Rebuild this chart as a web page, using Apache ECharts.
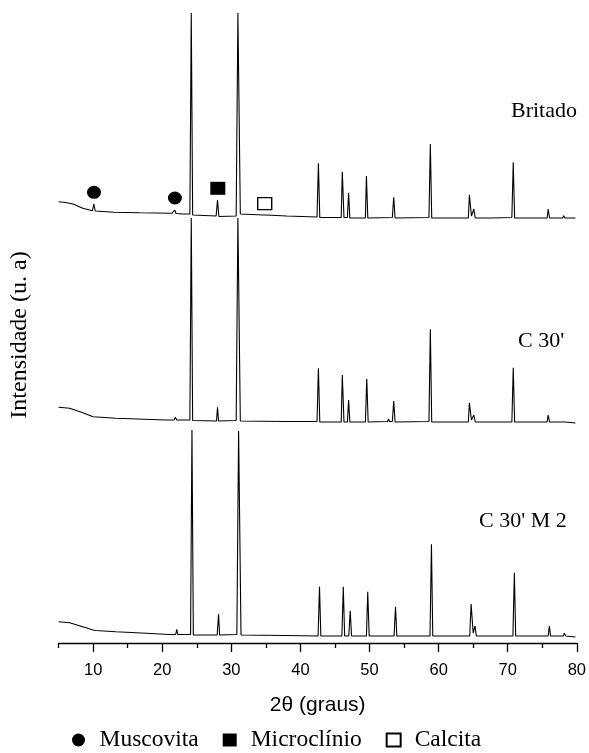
<!DOCTYPE html>
<html>
<head>
<meta charset="utf-8">
<script src="https://cdn.jsdelivr.net/npm/echarts@6/dist/echarts.min.js"></script>
<style>
html,body{margin:0;padding:0;background:#fff;}
#chart{width:589px;height:753px;}
</style>
</head>
<body>
<div id="chart"></div>
<script>
// 2theta (graus), intensidade relativa a linha de base de cada amostra
let britado = [[5.0,16.3],[6.0,15.5],[7.1,14],[8.5,9.7],[9.9,7.3],[10.1,14],[10.3,7],[13,5.8],[16.7,5.3],[21.4,4.7],[21.8,8],[22.0,4.5],
    [23.0,4],[23.15,6],[23.3,4],[24.0,4],[24.2,205],[24.4,3],[27.8,2],[28.0,18],[28.2,1.5],[30.7,2],[30.95,205],[31.05,205],[31.3,4],
    [33,3.5],[34.6,3],[34.8,4.5],[35.0,3],[38,2],[42.4,1],[42.6,54.7],[42.8,0.5],[45.9,0.5],[46.06,46.3],[46.3,0.5],[46.8,0.5],
    [46.97,25.3],[47.15,0],[49.4,0],[49.55,42],[49.75,0],[53.3,0.5],[53.5,20.7],[53.7,0],[58.6,0.5],[58.8,74],[59.0,0],[64.3,0],
    [64.45,23],[64.75,2],[64.95,1.5],[65.1,9],[65.3,0],[67.35,0],[67.5,2],[67.65,0],[70.6,0.5],[70.8,55.7],[71.0,0],[75.7,0],
    [75.85,9],[76.05,0],[77.95,0],[78.1,2.3],[78.3,0],[79.8,0]];
let c30 = [[5.0,14.7],[6.6,13.7],[8.5,9.3],[10.0,5.3],[13.3,3.7],[20.5,2],[21.7,2],[21.9,4.7],[22.1,2],[22.65,2],[22.8,3],[22.95,2],
    [24.0,2],[24.2,204],[24.4,1.5],[27.85,1],[28.0,14.7],[28.15,1],[30.7,1.5],[30.95,204],[31.05,204],[31.3,1],[38,0.5],[41.3,0.5],
    [41.4,2],[41.5,0.5],[42.4,0.5],[42.6,53.7],[42.8,0],[45.9,0],[46.06,47],[46.3,0],[46.8,0],[46.97,22],[47.15,0],[49.4,0],
    [49.6,43.3],[49.8,0],[52.6,0.5],[52.75,3],[52.9,0.5],[53.3,0.5],[53.5,21],[53.7,0],[58.6,0.5],[58.8,92.7],[59.0,0],[64.3,0],
    [64.45,19.3],[64.75,2],[64.95,1.5],[65.1,7],[65.3,0],[67.35,0],[67.5,1.5],[67.65,0],[70.6,0],[70.8,54.3],[71.0,0],[75.7,0],
    [75.85,7],[76.05,0],[77.95,0],[78.1,2],[78.3,0],[79.8,-1]];
let c30m2 = [[5.0,14.3],[6.6,13.3],[8.5,9.3],[10.0,6],[10.2,7.7],[10.4,5.5],[13.3,4.3],[17,3],[21,1.5],[21.95,1.5],[22.1,6.7],
    [22.25,1.5],[22.7,1.5],[22.85,2.7],[23.0,1.5],[24.1,1.5],[24.3,206],[24.5,1],[27.95,1],[28.15,22],[28.3,1],[30.8,1.5],
    [31.05,205],[31.15,205],[31.4,1],[38,0.5],[42.55,0],[42.76,49.3],[42.95,0],[46.0,0],[46.2,49.3],[46.4,0],[47.0,0],[47.2,25.3],
    [47.4,0],[49.55,0],[49.74,44.3],[49.95,0],[53.55,0],[53.76,29.3],[53.95,0],[58.75,0],[58.96,91.7],[59.15,0],[64.5,0],
    [64.7,32],[65.0,3],[65.1,2],[65.27,10],[65.45,0],[70.75,0],[70.96,63.3],[71.15,0],[75.85,0],[76.03,10],[76.2,0],[78.05,0],
    [78.2,2.7],[78.4,0],[79.8,-1]];
let offsets = [425, 221, 7];//deslocamento vertical de cada curva
let sampleNames = ['Britado', "C 30'", "C 30' M 2"];
// marcadores das fases (sobre a curva Britado)
let muscovita = [[10.12,25.7],[21.83,20]];
let microclinio = [[28.04,29.7]];
let calcita = [[34.83,14.3]];
let majorTicks = [10,20,30,40,50,60,70,80];
let minorTicks = [5,15,25,35,45,55,65,75];

function shift(arr, off) {
    return arr.map(function(p){ return [p[0], p[1]+off]; });
}

let chart = echarts.init(document.getElementById('chart'), null, {renderer:'canvas'});
let serif = '"Liberation Serif","Times New Roman",serif';
let sans = '"Liberation Sans",Arial,sans-serif';
let traces = [britado, c30, c30m2];
let series = [];
for (let i = 0; i < traces.length; i++) {
    series.push({
        name: sampleNames[i],
        type: 'line',
        showSymbol: false,
        data: shift(traces[i], offsets[i]),
        lineStyle: {color:'#000', width:1.1},
        itemStyle: {color:'#000'}
    });
}
series.push({name:'Muscovita', type:'scatter', symbol:'circle', symbolSize:[14,13],
    data: shift(muscovita, offsets[0]), itemStyle:{color:'#000', opacity:1}});
series.push({name:'Microclínio', type:'scatter', symbol:'rect', symbolSize:[15,13],
    data: shift(microclinio, offsets[0]), itemStyle:{color:'#000', opacity:1}});
series.push({name:'Calcita', type:'scatter', symbol:'rect', symbolSize:[14,12],
    data: shift(calcita, offsets[0]), itemStyle:{color:'#fff', borderColor:'#000', borderWidth:1.3, opacity:1}});

let option = {
    animation: false,
    backgroundColor: '#fff',
    grid: {left:58.6, right:7, top:13, bottom:110, containLabel:false},
    legend: {
        data: ['Muscovita','Microclínio','Calcita'],
        left: 67, top: 723,
        itemWidth: 14, itemHeight: 13, itemGap: 24,
        textStyle: {fontFamily: serif, fontSize: 23.5, color:'#000', padding:[0,0,0,9]}
    },
    xAxis: [
        {
            type: 'value', min: 5, max: 80, position: 'bottom',
            name: '2θ (graus)', nameLocation: 'middle', nameGap: 52,
            nameTextStyle: {fontFamily: sans, fontSize: 21, color:'#000'},
            axisLine: {lineStyle:{color:'#000', width:1.3}},
            axisTick: {customValues: majorTicks, length: 9, lineStyle:{color:'#000', width:1.3}},
            axisLabel: {customValues: majorTicks, margin: 19, fontFamily: sans, fontSize: 16.5, color:'#000'},
            splitLine: {show:false}
        },
        {
            type: 'value', min: 5, max: 80, position: 'bottom', gridIndex: 0,
            axisLine: {show:false},
            axisTick: {customValues: minorTicks, length: 5, lineStyle:{color:'#000', width:1.3}},
            axisLabel: {show:false},
            splitLine: {show:false}
        }
    ],
    yAxis: {type:'value', min:0, max:630, show:false},
    graphic: [
        {type:'text', left:511, top:100, style:{text:sampleNames[0], font:'22px '+serif, fill:'#000'}},
        {type:'text', left:518, top:330, style:{text:sampleNames[1], font:'22px '+serif, fill:'#000'}},
        {type:'text', left:479, top:510, style:{text:sampleNames[2], font:'22px '+serif, fill:'#000'}},
        {type:'text', x:20, y:335, rotation:Math.PI/2,
            style:{text:'Intensidade (u. a)', font:'24px '+serif, fill:'#000', align:'center', verticalAlign:'middle'}}
    ],
    series: series
};
chart.setOption(option);
</script>
</body>
</html>
